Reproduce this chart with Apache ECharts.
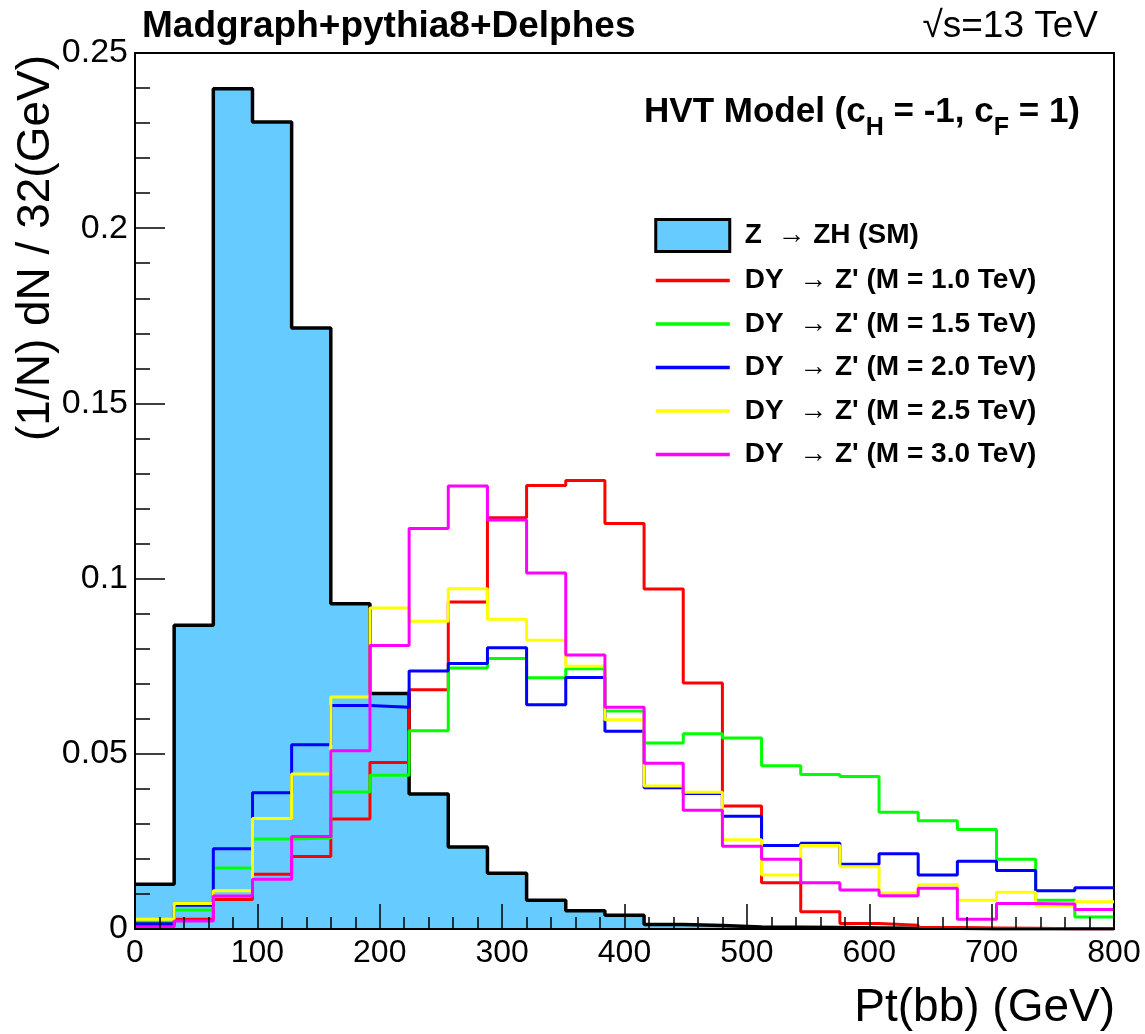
<!DOCTYPE html>
<html>
<head>
<meta charset="utf-8">
<script src="https://cdn.jsdelivr.net/npm/echarts@6/dist/echarts.min.js"></script>
<style>
html,body{margin:0;padding:0;background:#fff;}
#chart{width:1145px;height:1034px;}
</style>
</head>
<body>
<div id="chart"></div>
<script>
// Bin lower edges (GeV), bin width 32 GeV, upper range 800
const binLow = [0,32,64,96,128,160,192,224,256,288,320,352,384,416,448,480,512,544,576,608,640,672,704,736,768];
const xMax = 800;

const smZH = [0.0128,0.0867,0.2398,0.2303,0.1715,0.0928,0.0672,0.0385,0.0234,0.0159,0.0082,0.0052,0.0039,0.0013,0.0010,0.0006,0.0005,0.0004,0.0003,0.0002,0.0002,0.0001,0.0001,0.0001,0.0001];
const zp10 = [0.0010,0.0028,0.0084,0.0156,0.0207,0.0314,0.0475,0.0683,0.0933,0.1174,0.1266,0.1280,0.1157,0.0970,0.0702,0.0351,0.0132,0.0049,0.0016,0.0011,0.0004,0.0003,0.0002,0.0001,0.0001];
const zp15 = [0.0020,0.0054,0.0174,0.0257,0.0260,0.0391,0.0439,0.0566,0.0745,0.0772,0.0717,0.0743,0.0622,0.0531,0.0557,0.0545,0.0466,0.0441,0.0435,0.0333,0.0309,0.0284,0.0199,0.0082,0.0034];
const zp20 = [0.0015,0.0068,0.0229,0.0389,0.0526,0.0638,0.0633,0.0736,0.0758,0.0803,0.0640,0.0718,0.0564,0.0403,0.0387,0.0322,0.0238,0.0245,0.0185,0.0215,0.0154,0.0193,0.0167,0.0109,0.0118];
const zp25 = [0.0028,0.0073,0.0109,0.0315,0.0442,0.0662,0.0916,0.0878,0.0971,0.0884,0.0824,0.0750,0.0597,0.0408,0.0390,0.0255,0.0154,0.0238,0.0178,0.0103,0.0126,0.0082,0.0105,0.0066,0.0078];
const zp30 = [0.0006,0.0023,0.0094,0.0142,0.0264,0.0509,0.0809,0.1143,0.1264,0.1167,0.1016,0.0782,0.0633,0.0473,0.0339,0.0236,0.0199,0.0132,0.0111,0.0095,0.0116,0.0028,0.0073,0.0071,0.0056];

const names = ["Z  \u2192 ZH (SM)",
  "DY  \u2192 Z' (M = 1.0 TeV)",
  "DY  \u2192 Z' (M = 1.5 TeV)",
  "DY  \u2192 Z' (M = 2.0 TeV)",
  "DY  \u2192 Z' (M = 2.5 TeV)",
  "DY  \u2192 Z' (M = 3.0 TeV)"];
const colors = ['#000000','#ff0000','#00ff00','#0000ff','#ffff00','#ff00ff'];
const fillColor = '#66ccff';

const FONT = "'Liberation Sans', Arial, Helvetica, sans-serif";

function histPoints(vals){
  const pts = binLow.map((x,i)=>[x, vals[i]]);
  pts.push([xMax, vals[vals.length-1]]);
  return pts;
}

const allVals = [smZH, zp10, zp15, zp20, zp25, zp30];
const series = allVals.map((v,i)=>{
  const s = {
    name: names[i],
    type: 'line',
    step: 'end',
    symbol: 'none',
    data: histPoints(v),
    lineStyle: {color: colors[i], width: i===0 ? 3.5 : 3},
    itemStyle: {color: i===0 ? fillColor : colors[i]},
    z: 2 + i,
    animation: false
  };
  if(i===0){
    s.areaStyle = {color: fillColor, opacity: 1};
  }
  return s;
});

const legendData = names.map((n,i)=> i===0
  ? {name: n, icon: 'rect', itemStyle: {color: fillColor, borderColor: '#000', borderWidth: 3}}
  : {name: n, itemStyle: {opacity: 0}, lineStyle: {color: colors[i], width: 3.5}});

const chart = echarts.init(document.getElementById('chart'), null, {renderer:'canvas'});
chart.setOption({
  animation: false,
  backgroundColor: '#ffffff',
  grid: {left: 135, right: 31, top: 53, bottom: 105, show: true, borderColor: '#000', borderWidth: 2, backgroundColor: 'transparent'},
  xAxis: {
    type: 'value', min: 0, max: xMax, interval: 100, z: 10,
    axisLine: {show: true, onZero: false, lineStyle: {color: '#000', width: 2}},
    axisTick: {show: true, inside: true, length: 25, lineStyle: {color: '#000', width: 1.5}},
    minorTick: {show: true, splitNumber: 5, length: 12, lineStyle: {color: '#000', width: 1.5}},
    splitLine: {show: false},
    axisLabel: {color: '#000', fontSize: 32, fontFamily: FONT, margin: 8}
  },
  yAxis: {
    type: 'value', min: 0, max: 0.25, interval: 0.05, z: 10,
    axisLine: {show: true, lineStyle: {color: '#000', width: 2}},
    axisTick: {show: true, inside: true, length: 30, lineStyle: {color: '#000', width: 1.5}},
    minorTick: {show: true, splitNumber: 5, length: 15, lineStyle: {color: '#000', width: 1.5}},
    splitLine: {show: false},
    axisLabel: {color: '#000', fontSize: 34, fontFamily: FONT, margin: 7}
  },
  legend: {
    orient: 'vertical', left: 654, top: 218, padding: 0,
    itemWidth: 74, itemHeight: 32, itemGap: 11.5,
    textStyle: {color: '#000', fontSize: 28, fontWeight: 'bold', fontFamily: FONT, lineHeight: 32, padding: [0,0,0,10]},
    data: legendData
  },
  graphic: [
    {type: 'text', left: 142, top: 8, style: {text: 'Madgraph+pythia8+Delphes', font: "bold 37px " + FONT, fill: '#000'}},
    {type: 'text', right: 47, top: 8, style: {text: '\u221As=13 TeV', font: "37px " + FONT, fill: '#000'}},
    {type: 'text', right: 65, top: 95, style: {
      text: '{m|HVT Model (c}{s|H}{m| = -1, c}{s|F}{m| = 1)}',
      rich: {
        m: {fontSize: 35, fontWeight: 'bold', fontFamily: FONT, fill: '#000', lineHeight: 46, verticalAlign: 'top'},
        s: {fontSize: 25, fontWeight: 'bold', fontFamily: FONT, fill: '#000', lineHeight: 25, verticalAlign: 'bottom'}
      }
    }},
    {type: 'text', x: 36, y: 55, rotation: Math.PI/2, style: {text: '(1/N) dN / 32(GeV)', font: "46px " + FONT, fill: '#000', align: 'right', verticalAlign: 'middle'}},
    {type: 'text', right: 30, top: 985, style: {text: 'Pt(bb) (GeV)', font: "46px " + FONT, fill: '#000'}}
  ],
  series: series
});
</script>
</body>
</html>
